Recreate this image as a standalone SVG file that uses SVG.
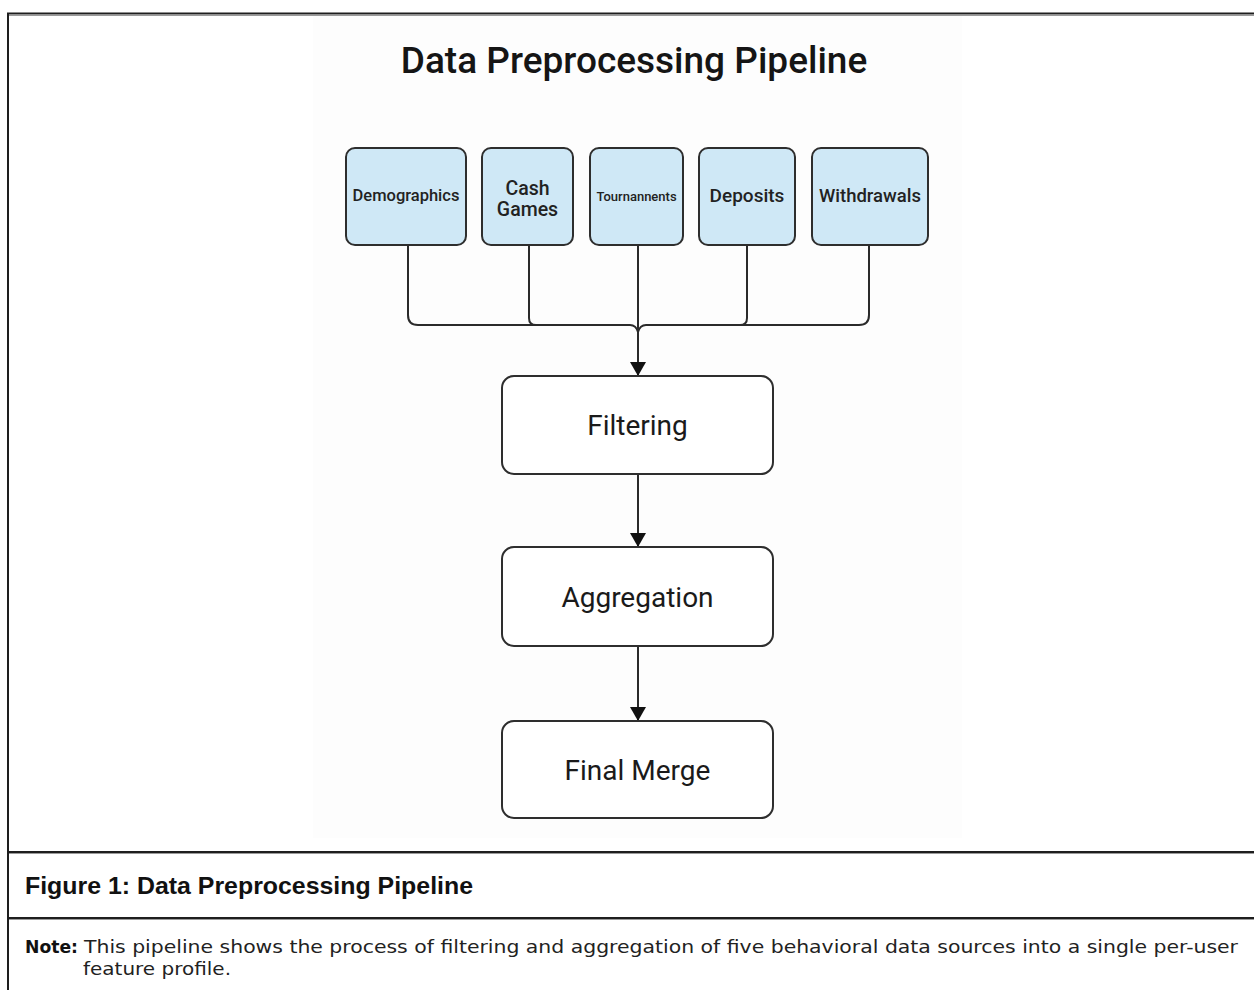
<svg xmlns="http://www.w3.org/2000/svg" width="1254" height="990" viewBox="0 0 1254 990">
  <style>
    .frame { stroke: #1e1e1e; stroke-width: 2; fill: none; }
    .shade { stroke: #9a9a9a; stroke-width: 1; fill: none; }
    .src { fill: #cfe8f6; stroke: #2e2e2e; stroke-width: 2; }
    .step { fill: #ffffff; stroke: #2e2e2e; stroke-width: 2; }
    .conn { stroke: #2a2a2a; stroke-width: 2; fill: none; }
    .title { font-family: Roboto, "Liberation Sans", sans-serif; font-size: 37px; font-weight: 500; fill: #151515; }
    .srcTxt { font-family: Roboto, "Liberation Sans", sans-serif; font-weight: 500; fill: #222; text-anchor: middle; }
    .stepTxt { font-family: Roboto, "Liberation Sans", sans-serif; font-size: 28px; fill: #1a1a1a; text-anchor: middle; }
    .cap { font-family: "Liberation Sans", Arial, sans-serif; font-size: 23px; font-weight: bold; fill: #111; }
    .note { font-family: "DejaVu Sans", "Liberation Sans", sans-serif; font-size: 17px; fill: #222; }
    .noteB { font-family: "DejaVu Sans", "Liberation Sans", sans-serif; font-size: 17px; font-weight: bold; fill: #111; }
  </style>
  <defs>
    <marker id="arrow" markerUnits="userSpaceOnUse" markerWidth="16" markerHeight="16" refX="14" refY="8" orient="auto">
      <path d="M0,0 L14,8 L0,16 Z" fill="#111"/>
    </marker>
  </defs>

  <rect x="0" y="0" width="1254" height="990" fill="#ffffff"/>
  <rect x="313" y="15" width="649" height="823" fill="#fdfdfd"/>

  <!-- frame -->
  <g id="frame">
    <line class="shade" x1="9" y1="15.5" x2="1254" y2="15.5"/>
    <line class="shade" x1="9" y1="853.5" x2="1254" y2="853.5"/>
    <line class="shade" x1="9" y1="919.5" x2="1254" y2="919.5"/>
    <line class="frame" x1="7" y1="13.5" x2="1254" y2="13.5"/>
    <line class="frame" x1="8" y1="13" x2="8" y2="990"/>
    <line class="frame" x1="8" y1="852" x2="1254" y2="852"/>
    <line class="frame" x1="8" y1="918" x2="1254" y2="918"/>
  </g>

  <text class="title" x="634" y="73" text-anchor="middle">Data Preprocessing Pipeline</text>

  <!-- connectors -->
  <g id="connectors">
    <path class="conn" d="M408,245 V315 Q408,325 418,325 H630 Q636,325 638,332"/>
    <path class="conn" d="M869,245 V315 Q869,325 859,325 H646 Q640,325 638,332"/>
    <path class="conn" d="M529,245 V318 Q529,325 536,325"/>
    <path class="conn" d="M747,245 V318 Q747,325 740,325"/>
    <path class="conn" d="M638,245 V376" marker-end="url(#arrow)"/>
    <path class="conn" d="M638,474 V547" marker-end="url(#arrow)"/>
    <path class="conn" d="M638,646 V721" marker-end="url(#arrow)"/>
  </g>

  <!-- source nodes -->
  <g id="node-demographics">
    <rect class="src" x="346" y="148" width="120" height="97" rx="9"/>
    <text class="srcTxt" x="406" y="201" font-size="16.5">Demographics</text>
  </g>
  <g id="node-cash-games">
    <rect class="src" x="482" y="148" width="91" height="97" rx="9"/>
    <text class="srcTxt" x="527.5" y="195" font-size="19.5" font-weight="400">Cash</text>
    <text class="srcTxt" x="527.5" y="216" font-size="19.5" font-weight="400">Games</text>
  </g>
  <g id="node-tournaments">
    <rect class="src" x="590" y="148" width="93" height="97" rx="9"/>
    <text class="srcTxt" x="636.5" y="201" font-size="13" font-weight="400">Tournannents</text>
  </g>
  <g id="node-deposits">
    <rect class="src" x="699" y="148" width="96" height="97" rx="9"/>
    <text class="srcTxt" x="747" y="202" font-size="19">Deposits</text>
  </g>
  <g id="node-withdrawals">
    <rect class="src" x="812" y="148" width="116" height="97" rx="9"/>
    <text class="srcTxt" x="870" y="202" font-size="18.5">Withdrawals</text>
  </g>

  <!-- pipeline steps -->
  <g id="node-filtering">
    <rect class="step" x="502" y="376" width="271" height="98" rx="12"/>
    <text class="stepTxt" x="637.5" y="435">Filtering</text>
  </g>
  <g id="node-aggregation">
    <rect class="step" x="502" y="547" width="271" height="99" rx="12"/>
    <text class="stepTxt" x="637.5" y="607">Aggregation</text>
  </g>
  <g id="node-final-merge">
    <rect class="step" x="502" y="721" width="271" height="97" rx="12"/>
    <text class="stepTxt" x="637.5" y="780">Final Merge</text>
  </g>

  <!-- caption -->
  <text class="cap" x="25" y="894" textLength="448" lengthAdjust="spacingAndGlyphs">Figure 1: Data Preprocessing Pipeline</text>
  <text class="noteB" x="25" y="953" textLength="53" lengthAdjust="spacingAndGlyphs">Note:</text>
  <text class="note" x="84" y="953" textLength="1154" lengthAdjust="spacingAndGlyphs">This pipeline shows the process of filtering and aggregation of five behavioral data sources into a single per-user</text>
  <text class="note" x="83" y="975" textLength="148" lengthAdjust="spacingAndGlyphs">feature profile.</text>
</svg>
